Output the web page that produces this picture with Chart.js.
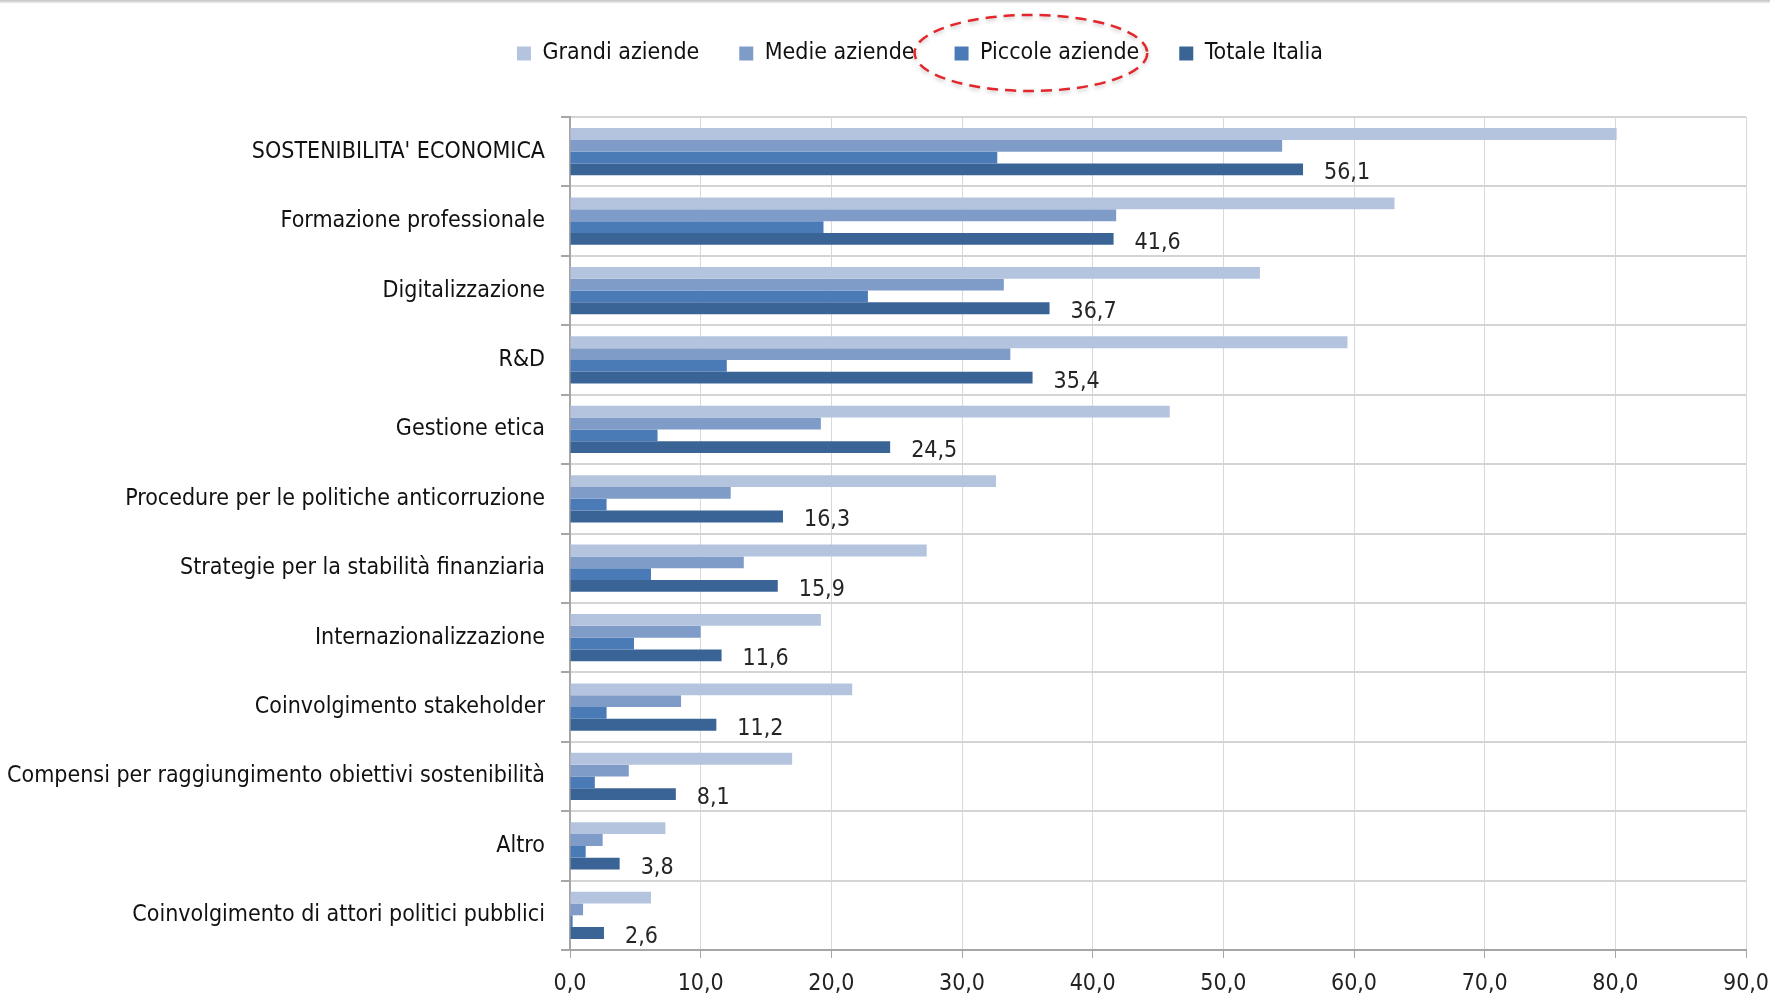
<!DOCTYPE html>
<html lang="it">
<head>
<meta charset="utf-8">
<title>Sostenibilità economica</title>
<script src="https://cdn.jsdelivr.net/npm/chart.js@4/dist/chart.umd.min.js"></script>
<style>
  html, body { margin: 0; padding: 0; background: #fff; }
  #wrap { position: relative; width: 1770px; height: 993px; }
  #topline { position: absolute; left: 0; top: 0; width: 1770px; height: 3px; background: linear-gradient(#c4c4c4, #ececec); }
</style>
</head>
<body>
<div id="wrap">
  <canvas id="chart" width="1770" height="993"></canvas>
  <div id="topline"></div>
</div>
<script>
const categories = [
  "SOSTENIBILITA' ECONOMICA",
  "Formazione professionale",
  "Digitalizzazione",
  "R&D",
  "Gestione etica",
  "Procedure per le politiche anticorruzione",
  "Strategie per la stabilità finanziaria",
  "Internazionalizzazione",
  "Coinvolgimento stakeholder",
  "Compensi per raggiungimento obiettivi sostenibilità",
  "Altro",
  "Coinvolgimento di attori politici pubblici"
];
const grandi  = [80.1, 63.1, 52.8, 59.5, 45.9, 32.6, 27.3, 19.2, 21.6, 17.0, 7.3, 6.2];
const medie   = [54.5, 41.8, 33.2, 33.7, 19.2, 12.3, 13.3, 10.0, 8.5, 4.5, 2.5, 1.0];
const piccole = [32.7, 19.4, 22.8, 12.0, 6.7, 2.8, 6.2, 4.9, 2.8, 1.9, 1.2, 0.2];
const totale  = [56.1, 41.6, 36.7, 35.4, 24.5, 16.3, 15.9, 11.6, 11.2, 8.1, 3.8, 2.6];
const xTickLabels = ["0,0", "10,0", "20,0", "30,0", "40,0", "50,0", "60,0", "70,0", "80,0", "90,0"];

const FONT = "'Liberation Sans Narrow', 'DejaVu Sans Condensed', 'Liberation Sans', sans-serif";
const fmt = (v) => v.toFixed(1).replace(".", ",");

// legend: fixed height above the plot, row nudged right like the original
const legendSpacer = {
  id: "legendSpacer",
  beforeInit(chart) {
    const fit = chart.legend.fit;
    chart.legend.fit = function () {
      fit.bind(chart.legend)();
      this.height = 115;
    };
  },
  afterLayout(chart) {
    chart.legend.left += 47;
    chart.legend.right += 47;
  }
};

// value labels for "Totale Italia" only
const totaleLabels = {
  id: "totaleLabels",
  afterDatasetsDraw(chart) {
    const meta = chart.getDatasetMeta(3);
    const ctx = chart.ctx;
    ctx.save();
    ctx.font = "23px " + FONT;
    ctx.fillStyle = "#262626";
    ctx.textAlign = "left";
    ctx.textBaseline = "middle";
    meta.data.forEach((bar, i) => {
      ctx.fillText(fmt(totale[i]), bar.x + 21, bar.y + 4);
    });
    ctx.restore();
  }
};

// red dashed ring around the "Piccole aziende" legend entry
const legendRing = {
  id: "legendRing",
  afterDraw(chart) {
    const box = chart.legend.legendHitBoxes && chart.legend.legendHitBoxes[2];
    if (!box) return;
    const ctx = chart.ctx;
    ctx.save();
    ctx.strokeStyle = "#e3262b";
    ctx.lineWidth = 2.5;
    ctx.setLineDash([11, 7]);
    ctx.shadowColor = "rgba(0,0,0,0.25)";
    ctx.shadowBlur = 4;
    ctx.shadowOffsetY = 2;
    ctx.beginPath();
    ctx.ellipse(box.left + box.width / 2 - 16, 53, box.width / 2 + 24, 38, 0, 0, Math.PI * 2);
    ctx.stroke();
    ctx.restore();
  }
};

new Chart(document.getElementById("chart").getContext("2d"), {
  type: "bar",
  data: {
    labels: categories,
    datasets: [
      { label: "Grandi aziende", data: grandi, backgroundColor: "#b4c4df" },
      { label: "Medie aziende", data: medie, backgroundColor: "#7f9cc9" },
      { label: "Piccole aziende", data: piccole, backgroundColor: "#4a7bb6" },
      { label: "Totale Italia", data: totale, backgroundColor: "#3b6496" }
    ]
  },
  options: {
    indexAxis: "y",
    responsive: false,
    animation: false,
    categoryPercentage: 0.68,
    barPercentage: 1.0,
    layout: { padding: { top: 2, right: 24, bottom: 0, left: 0 } },
    plugins: {
      tooltip: { enabled: false },
      legend: {
        position: "top",
        labels: {
          boxWidth: 14,
          boxHeight: 14,
          padding: 40,
          color: "#111",
          font: { family: FONT, size: 23 }
        }
      }
    },
    scales: {
      x: {
        min: 0,
        max: 90,
        ticks: {
          stepSize: 10,
          callback: (v, i) => xTickLabels[i],
          color: "#222",
          padding: 12,
          maxRotation: 0,
          font: { family: FONT, size: 23 }
        },
        grid: { color: "#d9d9d9", tickLength: 8, tickColor: "#a6a6a6" },
        border: { color: "#a6a6a6", width: 2 },
        afterFit(scale) {
          scale.height = 43;
          scale.paddingLeft = 0;
          scale.paddingRight = 0;
        }
      },
      y: {
        ticks: {
          autoSkip: false,
          color: "#111",
          padding: 16,
          font: { family: FONT, size: 23 }
        },
        grid: { offset: true, color: "#d4d4d4", lineWidth: 2, tickLength: 9, tickColor: "#a6a6a6" },
        border: { color: "#a6a6a6", width: 2 },
        afterFit(scale) { scale.width = 570; }
      }
    }
  },
  plugins: [legendSpacer, totaleLabels, legendRing]
});
</script>
</body>
</html>
